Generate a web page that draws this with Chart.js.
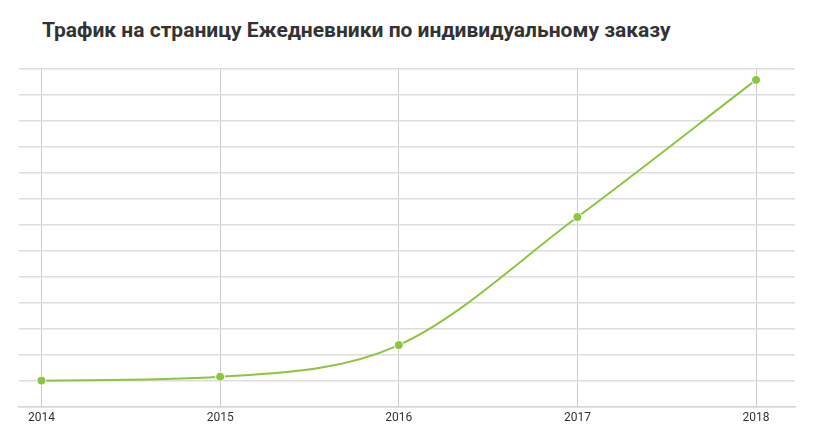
<!DOCTYPE html>
<html><head><meta charset="utf-8">
<script src="https://cdn.jsdelivr.net/npm/chart.js@4/dist/chart.umd.min.js"></script>
<style>
html,body{margin:0;padding:0;background:#fff;}
#wrap{position:relative;width:818px;height:437px;}
#title{position:absolute;left:42px;top:18px;margin:0;font:bold 21px Roboto,sans-serif;color:#333;white-space:nowrap;}
canvas{position:absolute;left:0;top:0;}
</style></head>
<body>
<div id="wrap">
<h1 id="title">Трафик на страницу Ежедневники по индивидуальному заказу</h1>
<canvas id="c" width="818" height="437"></canvas>
</div>
<script>
const years = [2014, 2015, 2016, 2017, 2018];
const traffic = [1.0, 1.15, 2.37, 7.3, 12.58];
const yMax = 13;

const points = years.map((y, i) => ({x: y, y: traffic[i]}));

new Chart(document.getElementById('c'), {
  type: 'line',
  data: {
    datasets: [{
      data: points,
      borderColor: '#8cc63f',
      backgroundColor: '#8cc63f',
      borderWidth: 2,
      pointRadius: 4.5,
      pointBorderColor: '#ffffff',
      pointBorderWidth: 1,
      pointBackgroundColor: '#8cc63f',
      cubicInterpolationMode: 'monotone',
      fill: false
    }]
  },
  options: {
    responsive: false,
    animation: false,
    layout: {padding: {left: 19, right: 23, top: 69, bottom: 8}},
    plugins: {legend: {display: false}, tooltip: {enabled: false}},
    scales: {
      x: {
        type: 'linear',
        min: 2013.874,
        max: 2018.218,
        ticks: {
          stepSize: 1,
          includeBounds: false,
          color: '#333',
          font: {family: 'Roboto', size: 12},
          padding: 4,
          maxRotation: 0,
          callback: v => String(v)
        },
        grid: {color: '#cccccc', lineWidth: 1, drawTicks: false},
        border: {display: true, color: '#d6d6d6', width: 1.5}
      },
      y: {
        min: 0,
        max: yMax,
        ticks: {display: false, stepSize: 1},
        grid: {color: '#dddddd', lineWidth: 1.5, drawTicks: false},
        border: {display: false}
      }
    }
  }
});
</script>
</body></html>
